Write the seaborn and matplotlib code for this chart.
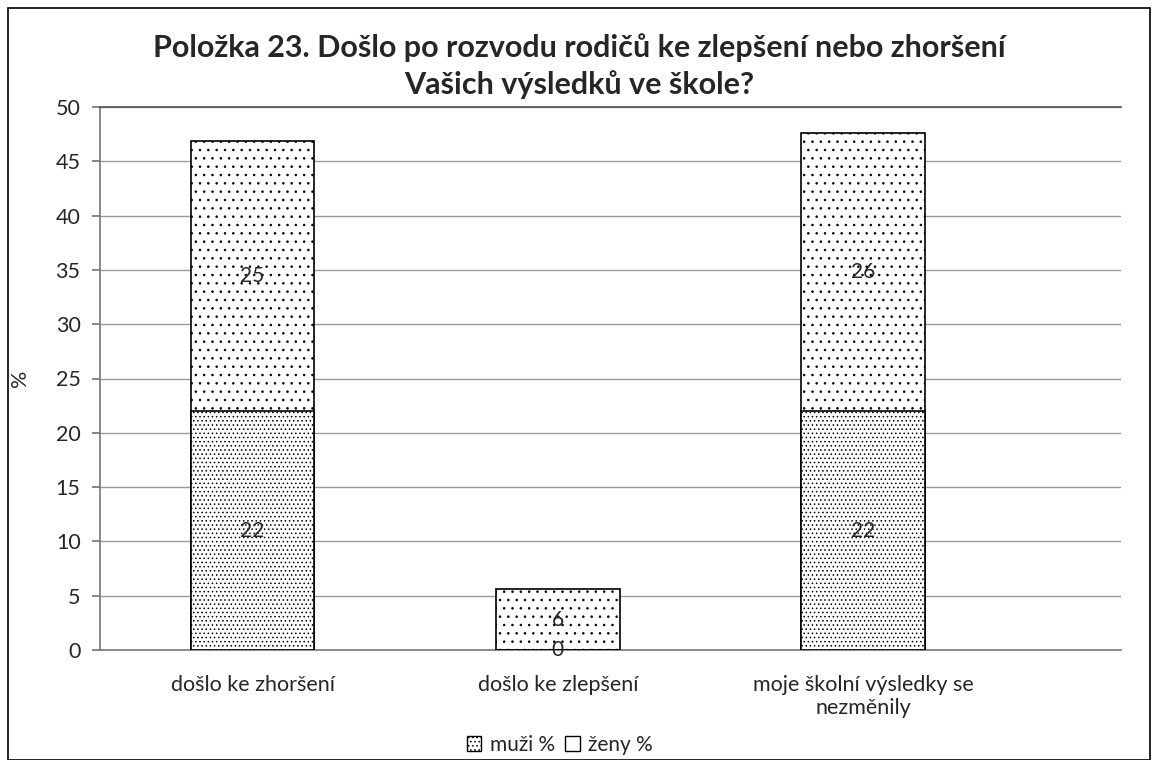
import matplotlib
matplotlib.use("Agg")
import matplotlib.pyplot as plt
import seaborn as sns
import numpy as np
from matplotlib.patches import Rectangle, Patch

categories = ["došlo ke zhoršení", "došlo ke zlepšení", "moje školní výsledky se\nnezměnily"]
muzi = [22.0, 0.0, 22.0]
zeny = [24.9, 5.6, 25.6]
muzi_labels = ["22", "0", "22"]
zeny_labels = ["25", "6", "26"]
title = "Položka 23. Došlo po rozvodu rodičů ke zlepšení nebo zhoršení\nVašich výsledků ve škole?"

sns.set_theme(style="white")
plt.rcParams['font.family'] = ['Lato', 'DejaVu Sans']
plt.rcParams['hatch.color'] = '#555555'
plt.rcParams['hatch.linewidth'] = 0.6

fig = plt.figure(figsize=(11.59, 7.6), dpi=100)
ax = fig.add_axes([100/1159, 1-650/760, 1021/1159, 543/760])

totals = [m + z for m, z in zip(muzi, zeny)]
sns.barplot(x=categories, y=totals, ax=ax, color="white", edgecolor="black",
            linewidth=1.2, width=0.405, hatch="..", zorder=3)
sns.barplot(x=categories, y=muzi, ax=ax, color="white", edgecolor="black",
            linewidth=1.2, width=0.405, hatch="....", zorder=4)

for i in range(len(categories)):
    ax.text(i, muzi[i] / 2, muzi_labels[i], ha="center", va="center", fontsize=15, zorder=6)
    ax.text(i, muzi[i] + zeny[i] / 2, zeny_labels[i], ha="center", va="center", fontsize=15, zorder=6)

ax.set_ylim(0, 50)
ax.set_xlim(-0.5, 2.845)
ax.set_yticks(np.arange(0, 51, 5))
ax.yaxis.grid(True, color="#9a9a9a", linewidth=1.0)
ax.set_axisbelow(True)
ax.spines["right"].set_visible(False)
ax.spines["top"].set_color("#555555")
ax.spines["left"].set_color("#777777")
ax.spines["bottom"].set_color("#777777")
ax.spines["left"].set_linewidth(1.2)
ax.spines["bottom"].set_linewidth(1.2)
ax.tick_params(axis="y", which="both", left=True, length=6, color="#777777", labelsize=15.5, pad=8)
ax.tick_params(axis="x", bottom=False, labelsize=15.5, pad=12)
ax.set_ylabel("%", fontsize=15.5)
ax.yaxis.set_label_coords(-0.069, 0.5)
ax.set_xlabel("")

fig.text(0.5, 1-66/760, title, ha="center", va="center", fontsize=22, fontweight="bold",
         linespacing=1.35)

handles = [Patch(facecolor="white", edgecolor="black", hatch="....", label="muži %"),
           Patch(facecolor="white", edgecolor="black", hatch="", label="ženy %")]
fig.legend(handles=handles, loc="center", bbox_to_anchor=(0.483, 1-745/760), ncol=2,
           frameon=False, fontsize=15, handlelength=0.7, handleheight=0.7,
           handletextpad=0.4, columnspacing=0.5)

fig.patches.append(Rectangle((8/1159, 0), 1142/1159, 1-8/760, transform=fig.transFigure,
                             fill=False, edgecolor="black", linewidth=1.2))

fig.savefig("out.png", dpi=100)
